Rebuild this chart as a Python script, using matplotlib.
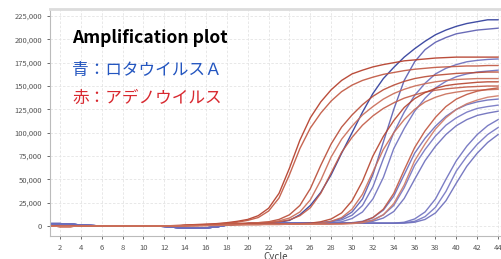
import matplotlib
matplotlib.use("Agg")
import matplotlib.pyplot as plt
import numpy as np

plt.rcParams['font.family'] = ['Noto Sans CJK JP', 'DejaVu Sans']

cycles = list(range(1, 45))

# fluorescence in thousands, cycle 1..44
red_start = [0, -0.5, -0.5, 0, 0, 0, 0, 0, 0, 0, 0, 0]
blue_start = [2.5, 2.5, 2, 1, 0.5, 0, 0, 0, 0, 0, 0, -0.5]
blue_dip = [-1.5, -2.5, -2.5, -2, -1]

red_curves = [
    red_start + [0.5, 1, 1.5, 2, 2.5, 3.5, 5, 7, 11, 19, 35, 62, 92, 116, 133, 146, 156, 163, 167, 170.5,
                 173, 175, 177, 178, 179, 180, 180.5, 181, 181, 181, 181, 181],
    red_start + [0, 0.5, 1, 1.5, 2, 3, 4, 6, 9, 16, 30, 55, 83, 105, 121, 134, 144, 151, 156, 159.5,
                 162.5, 164.5, 166.5, 168, 169, 170, 170.5, 171, 171.5, 171.5, 172, 172],
    red_start + [0, 0.5, 1, 1, 1.5, 2, 2.5, 3, 3.5, 4.5, 7, 12, 22, 40, 65, 88, 106, 119, 130, 139,
                 146, 151, 155, 158, 160, 161.5, 162.5, 163.5, 164, 164.5, 165, 165],
    red_start + [0, 0.5, 1, 1, 1.5, 2, 2.5, 3, 3.5, 4, 5.5, 8.5, 15, 28, 49, 74, 93, 107, 119, 128,
                 136, 142, 146.5, 150, 152.5, 154.5, 156, 157, 157.5, 158, 158, 158],
    red_start + [0, 0.5, 1, 1, 1.5, 2, 2, 2.5, 3, 3.5, 4.5, 6.5, 11, 19.5, 35, 57, 79, 95, 108, 118,
                 126, 132, 137, 140.5, 143.5, 145.5, 147, 148, 149, 149.5, 150, 150],
    red_start + [0, 0.5, 0.5, 1, 1, 1.5, 1.5, 2, 2, 2, 2, 2, 2.5, 3, 4.5, 7.5, 14, 27, 48, 75,
                 96, 113, 127, 136.5, 143, 147.5, 150.5, 152, 153, 154, 154.5, 154.5],
    red_start + [0, 0, 0.5, 0.5, 1, 1, 1.5, 1.5, 1.5, 2, 2, 2, 2, 2.5, 3, 5, 9, 18, 34, 58,
                 82, 100, 114, 125, 133, 138, 141.5, 143.5, 145, 145.5, 146, 146.5],
    red_start + [0, 0, 0.5, 0.5, 1, 1, 1.5, 1.5, 1.5, 2, 2, 2, 2, 2, 2, 2, 2.5, 3, 4.5, 9,
                 18, 35, 60, 84, 102, 116.5, 128, 136, 141, 144.5, 146.5, 148],
    red_start + [0, 0, 0, 0.5, 0.5, 1, 1, 1.5, 1.5, 1.5, 1.5, 2, 2, 2, 2, 2, 2, 2.5, 3.5, 6,
                 12, 24, 44, 70, 88, 104, 116, 125, 131, 135, 138, 139.5],
]

blue_mid = [1, 2, 2.5, 3, 3, 3, 3]  # cycles 18-24
blue_curves = [
    blue_start + blue_dip + [1, 2, 2.5, 3, 3.5, 4, 6, 12, 22, 36, 55, 78, 100, 122, 142, 158, 170,
                             181, 190, 198, 205, 210, 214, 217, 219, 221, 221],
    blue_start + blue_dip + blue_mid + [3, 3, 3.5, 5, 8, 15, 29, 55, 90, 125, 156, 176, 189, 197,
                                        202, 206, 208, 210, 211, 212],
    blue_start + blue_dip + blue_mid + [3, 3, 3.5, 4.5, 6.5, 11.5, 22, 42, 72, 100, 122, 140, 153,
                                        163, 169, 173, 176, 177.5, 178.5, 179],
    blue_start + blue_dip + blue_mid + [3, 3, 3, 3.5, 4.5, 8, 15, 29, 52, 83, 104.5, 123, 137,
                                        148, 155, 160, 163, 165, 166, 167],
    blue_start + blue_dip + blue_mid + [3, 3, 3, 3, 3, 3.5, 5, 9, 17, 32, 55, 78, 94, 107, 117.5,
                                        125, 130, 133, 135, 136],
    blue_start + blue_dip + blue_mid + [3, 3, 3, 3, 3, 3, 4, 6.5, 12, 22, 41, 65, 82, 96.5, 108,
                                        116, 122, 126, 128, 129.5],
    blue_start + blue_dip + blue_mid + [3, 3, 3, 3, 3, 3, 3.5, 5, 8.5, 15.5, 29.5, 50, 70, 85.5,
                                        98, 107.5, 114, 118.5, 121, 123],
    blue_start + blue_dip + blue_mid + [3, 3, 3, 3, 3, 3, 3, 3, 3, 3, 4, 7.5, 15, 29, 50, 70,
                                        85.5, 98, 107.5, 114],
    blue_start + blue_dip + blue_mid + [3, 3, 3, 3, 3, 3, 3, 3, 3, 3, 3.5, 5, 10, 20, 37, 59, 74.5,
                                        87.5, 98, 105.5],
    blue_start + blue_dip + blue_mid + [3, 3, 3, 3, 3, 3, 3, 3, 3, 3, 3, 4, 7, 14, 27, 46, 64,
                                        78, 89.5, 98],
]

red_colors = ['#b33a26', '#c0553f', '#b84a35', '#c96a55', '#c25a45',
              '#b5432d', '#c96d58', '#c0553f', '#cf7a66']
blue_colors = ['#2c3a9a', '#5a5cb0', '#6a6cbb', '#6d6fbe', '#6a6cbb',
               '#7375c2', '#6a6cbb', '#6d6fbe', '#7375c2', '#6a6cbb']

fig = plt.figure(figsize=(5.01, 2.59), dpi=100)
ax = fig.add_axes([0.0998, 0.089, 0.9002, 0.876])

for vals, col in zip(blue_curves, blue_colors):
    ax.plot(cycles, np.array(vals) * 1000, color=col, lw=1.0, alpha=0.9)
for vals, col in zip(red_curves, red_colors):
    ax.plot(cycles, np.array(vals) * 1000, color=col, lw=1.0, alpha=0.9)

ax.set_xlim(1.04, 44.28)
ax.set_ylim(-10700, 232500)
ax.set_xticks(range(2, 45, 2))
ax.set_yticks(range(0, 225001, 25000))
ax.set_yticklabels(['0'] + ['{:,}'.format(v) for v in range(25000, 225001, 25000)])
ax.tick_params(labelsize=5.5, colors='#555555', length=2, width=0.6)
ax.grid(True, color='#e4e4e4', lw=0.6, ls=(0, (3, 2)))
ax.set_axisbelow(True)
ax.spines['right'].set_visible(False)
ax.spines['top'].set_color('#dcdcdc')
ax.spines['top'].set_linewidth(2)
ax.spines['left'].set_color('#bbbbbb')
ax.spines['bottom'].set_color('#bbbbbb')
ax.set_xlabel('Cycle', fontsize=7, color='#444444', labelpad=0)

fig.text(0.144, 0.853, 'Amplification plot', fontsize=12.6, fontweight='bold',
         color='black', va='center')
fig.text(0.144, 0.728, '青：ロタウイルスＡ', fontsize=12, color='#2456c0', va='center')
fig.text(0.144, 0.622, '赤：アデノウイルス', fontsize=12, color='#d8282f', va='center')

fig.savefig('out.png', dpi=100)
